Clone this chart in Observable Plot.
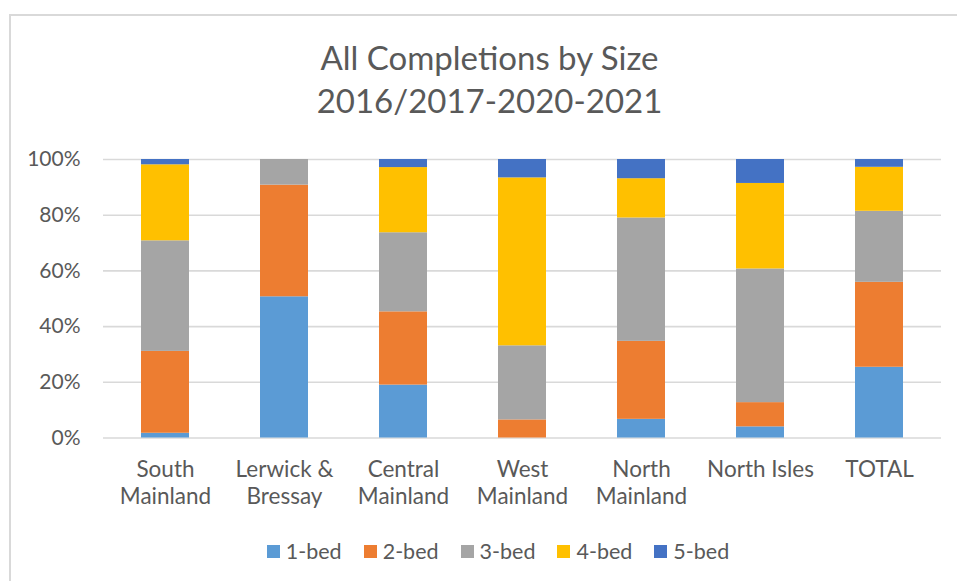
<!DOCTYPE html>
<html>
<head>
<meta charset="utf-8">
<script src="https://cdn.jsdelivr.net/npm/d3@7"></script>
<script src="https://cdn.jsdelivr.net/npm/@observablehq/plot@0.6"></script>
<style>
  html, body { margin: 0; padding: 0; background: #fff; }
  #wrap { position: relative; width: 957px; height: 581px; overflow: hidden; font-family: Lato, "Open Sans", sans-serif; color: #595959; }
  #frame { position: absolute; left: 9px; top: 14px; width: 1000px; height: 700px; border-left: 2px solid #d9d9d9; border-top: 2px solid #d9d9d9; box-sizing: border-box; }
  #title { position: absolute; left: 0; top: 36px; width: 979px; text-align: center; font-size: 33px; line-height: 43px; color: #595959; }
  #chart { position: absolute; left: 0; top: 130px; }
  #legend { position: absolute; left: 0; top: 538px; width: 996px; display: flex; justify-content: center; font-size: 21.5px; line-height: 26px; }
  .item { display: flex; align-items: center; margin: 0 11px; }
  .sw { width: 13px; height: 13px; margin-right: 6px; }
</style>
</head>
<body>
<div id="wrap">
  <div id="frame"></div>
  <div id="title">All Completions by Size<br>2016/2017-2020-2021</div>
  <div id="chart"></div>
  <div id="legend"></div>
</div>
<script>
const areas = ["South Mainland", "Lerwick & Bressay", "Central Mainland", "West Mainland", "North Mainland", "North Isles", "TOTAL"];
const areaLabels = ["South\nMainland", "Lerwick &\nBressay", "Central\nMainland", "West\nMainland", "North\nMainland", "North Isles", "TOTAL"];
const sizes = ["1-bed", "2-bed", "3-bed", "4-bed", "5-bed"];
const colors = ["#5B9BD5", "#ED7D31", "#A5A5A5", "#FFC000", "#4472C4"];
// percentage share per size, one array per size in area order
const bed1 = [1.7, 50.7, 19.0, 0.0, 6.7, 4.0, 25.4];
const bed2 = [29.4, 40.1, 26.3, 6.5, 28.0, 8.7, 30.5];
const bed3 = [39.7, 9.2, 28.4, 26.6, 44.3, 48.0, 25.5];
const bed4 = [27.3, 0.0, 23.4, 60.3, 14.1, 30.7, 15.8];
const bed5 = [1.9, 0.0, 2.9, 6.6, 6.9, 8.6, 2.8];
const yTicks = [0, 20, 40, 60, 80, 100];

const series = [bed1, bed2, bed3, bed4, bed5];
const rows = [];
areas.forEach((a, i) => sizes.forEach((s, j) => rows.push({area: a, size: s, value: series[j][i] / 100})));

const labelOf = new Map(areas.map((a, i) => [a, areaLabels[i]]));

const plot = Plot.plot({
  width: 957,
  height: 390,
  marginLeft: 103,
  marginRight: 16,
  marginTop: 29,
  marginBottom: 82.5,
  style: { fontFamily: "Lato, 'Open Sans', sans-serif", color: "#595959", background: "transparent", overflow: "visible" },
  x: { domain: areas, paddingInner: 0.6, paddingOuter: 0.3, axis: null },
  y: { domain: [0, 1], axis: null },
  color: { domain: sizes, range: colors },
  marks: [
    Plot.gridY(yTicks.map(d => d / 100), { stroke: "#d9d9d9", strokeOpacity: 1, strokeWidth: 1.6 }),
    Plot.barY(rows, Plot.stackY({ x: "area", y: "value", fill: "size", order: sizes })),
    Plot.axisY(yTicks.map(d => d / 100), { label: null, tickSize: 0, tickPadding: 23, fontSize: 21, tickFormat: d => Math.round(d * 100) + "%", fill: "#595959" }),
    Plot.axisX({ label: null, tickSize: 0, tickPadding: 20, fontSize: 22.5, lineHeight: 1.2, tickFormat: d => labelOf.get(d), fill: "#595959" })
  ]
});
document.getElementById("chart").appendChild(plot);

const legend = document.getElementById("legend");
sizes.forEach((s, i) => {
  const it = document.createElement("div");
  it.className = "item";
  const sw = document.createElement("span");
  sw.className = "sw";
  sw.style.background = colors[i];
  const tx = document.createElement("span");
  tx.textContent = s;
  it.appendChild(sw); it.appendChild(tx);
  legend.appendChild(it);
});
</script>
</body>
</html>
